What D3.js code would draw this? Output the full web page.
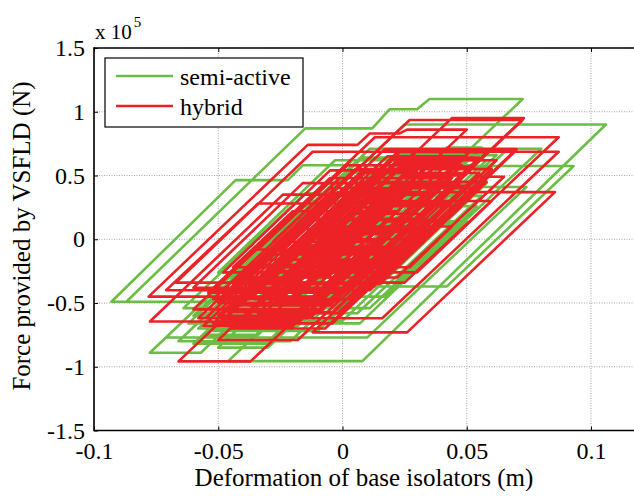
<!DOCTYPE html>
<html>
<head>
<meta charset="utf-8">
<script src="https://cdn.jsdelivr.net/npm/d3@7/dist/d3.min.js"></script>
<style>
  body { margin: 0; background: #fff; }
  text { font-family: "Liberation Serif", "Times New Roman", serif; fill: #000; }
</style>
</head>
<body>
<svg width="634" height="496"></svg>
<script>
// force values are in units of 1e5 N, deformation in m
var semiActive = [
  [-0.010,-0.12],[0.006,0.18],[0.016,0.18],[-0.009,-0.28],
  [-0.020,-0.28],[0.011,0.30],[0.026,0.30],[-0.012,-0.40],
  [-0.032,-0.40],[0.003,0.24],[0.020,0.24],[-0.004,-0.20],
  [-0.024,-0.20],[0.010,0.42],[0.038,0.42],[-0.014,-0.55],
  [-0.042,-0.55],[0.009,0.40],[0.030,0.40],[-0.025,-0.62],
  [-0.050,-0.62],[0.015,0.58],[0.052,0.58],[0.001,-0.36],
  [-0.036,-0.36],[0.012,0.52],[0.046,0.52],[-0.020,-0.70],
  [-0.058,-0.70],[0.005,0.47],[0.040,0.47],[-0.012,-0.49],
  [-0.093,-0.49],[-0.043,0.464],[-0.022,0.464],[-0.016,0.58],[0.022,0.58],[-0.057,-0.89],
  [-0.0775,-0.89],[0.004,0.62],[0.058,0.62],[-0.002,-0.49],
  [-0.087,-0.49],[-0.015,0.87],[0.012,0.87],[0.019,1.02],[0.030,1.02],[0.035,1.10],[0.0725,1.10],[-0.019,-0.60],
  [-0.060,-0.60],[0.011,0.71],[0.080,0.71],[0.017,-0.45],
  [-0.048,-0.45],[0.025,0.90],[0.106,0.90],[0.008,-0.956],
  [-0.046,-0.956],[0.037,0.574],[0.093,0.574],[0.042,-0.37],
  [-0.040,-0.37],[0.002,0.41],[0.074,0.41],[0.010,-0.77],
  [-0.071,-0.77],[-0.013,0.30],[0.045,0.30],[-0.010,-0.72],
  [-0.052,-0.72],[0.022,0.66],[0.062,0.66],[-0.002,-0.52],
  [-0.030,-0.52],[0.018,0.36],[0.048,0.36],[0.012,-0.30],
  [-0.045,-0.30],[-0.018,0.20],[0.030,0.20],[-0.014,-0.62],
  [-0.040,-0.62],[0.020,0.50],[0.036,0.50],[0.001,-0.15],
  [-0.020,-0.15],[0.022,0.62],[0.042,0.62],[-0.016,-0.45],
  [-0.032,-0.45],[-0.002,0.10],[0.012,0.10],[-0.034,-0.75],
  [-0.055,-0.75],[0.007,0.40],[0.034,0.40],[0.007,-0.10],
  [-0.008,-0.10],[0.033,0.66],[0.052,0.66],[-0.030,-0.85],
  [-0.050,-0.85],[0.008,0.22],[0.028,0.22],[0.013,-0.05],
  [0.000,-0.05],[0.042,0.72],[0.056,0.72],[0.004,-0.25],
  [-0.015,-0.25],[0.001,0.05],[0.010,0.05],[-0.028,-0.66],
  [-0.062,-0.66],[0.002,0.52],[0.050,0.52],[-0.021,-0.80],
  [-0.066,-0.80],[-0.004,0.34],[0.056,0.34],[0.006,-0.58],
  [-0.058,-0.58],[0.008,0.64],[0.048,0.64],[-0.031,-0.82],
  [-0.060,-0.82],[-0.008,0.14],[0.050,0.14],[0.007,-0.66],
  [-0.038,-0.66],[0.028,0.56],[0.060,0.56],[0.007,-0.42],
  [-0.054,-0.42],[-0.017,0.26],[0.054,0.26],[0.011,-0.54],
  [-0.064,-0.54],[-0.015,0.36],[0.038,0.36],[-0.018,-0.68],
  [-0.044,-0.68],[0.030,0.70],[0.066,0.70],[0.014,-0.26],
  [-0.050,-0.26],[-0.003,0.62],[0.020,0.62],[-0.019,-0.10],
  [-0.036,-0.10],[-0.007,0.44],[0.058,0.44],[0.000,-0.64],
  [-0.030,-0.64],[0.011,0.12],[0.046,0.12],[0.021,-0.34],
  [-0.022,-0.34],[0.013,0.30],[0.040,0.30]
];

var hybrid = [
  [-0.010,-0.15],[0.009,0.20],[0.012,0.20],[-0.012,-0.25],
  [-0.020,-0.25],[0.011,0.32],[0.022,0.32],[-0.014,-0.35],
  [-0.030,-0.35],[0.002,0.25],[0.016,0.25],[-0.008,-0.20],
  [-0.022,-0.20],[0.013,0.45],[0.030,0.45],[-0.016,-0.40],
  [-0.035,-0.40],[0.007,0.38],[0.026,0.38],[-0.022,-0.50],
  [-0.040,-0.50],[0.017,0.55],[0.040,0.55],[-0.006,-0.30],
  [-0.028,-0.30],[0.021,0.60],[0.046,0.60],[-0.016,-0.55],
  [-0.045,-0.55],[0.004,0.35],[0.036,0.35],[-0.015,-0.60],
  [-0.050,-0.60],[0.018,0.65],[0.050,0.65],[-0.009,-0.45],
  [-0.078,-0.45],[-0.014,0.74],[0.006,0.74],[0.011,0.83],[0.023,0.83],[0.026,0.86],[0.050,0.86],[-0.031,-0.645],
  [-0.0775,-0.645],[-0.024,0.35],[0.034,0.35],[-0.037,-0.958],
  [-0.066,-0.958],[0.024,0.70],[0.070,0.70],[0.011,-0.40],
  [-0.071,-0.40],[-0.034,0.28],[0.040,0.28],[-0.018,-0.79],
  [-0.050,-0.79],[0.044,0.95],[0.073,0.95],[-0.008,-0.55],
  [-0.060,-0.55],[0.013,0.80],[0.087,0.80],[0.025,-0.34],
  [-0.067,-0.34],[-0.012,0.686],[0.087,0.686],[0.016,-0.62],
  [-0.055,-0.62],[-0.002,0.37],[0.0855,0.37],[0.026,-0.73],
  [-0.012,-0.73],[0.054,0.49],[0.065,0.49],[0.022,-0.30],
  [-0.040,-0.30],[0.027,0.935],[0.0725,0.935],[-0.005,-0.50],
  [-0.048,-0.50],[0.017,0.707],[0.070,0.707],[0.021,-0.20],
  [-0.035,-0.20],[-0.016,0.15],[0.040,0.15],[-0.004,-0.66],
  [-0.052,-0.66],[0.008,0.45],[0.058,0.45],[0.015,-0.35],
  [-0.044,-0.35],[0.005,0.55],[0.060,0.55],[0.025,-0.10],
  [-0.025,-0.10],[0.008,0.52],[0.034,0.52],[-0.018,-0.45],
  [-0.036,-0.45],[-0.009,0.05],[0.020,0.05],[-0.012,-0.55],
  [-0.030,-0.55],[0.022,0.42],[0.050,0.42],[0.027,0.00],
  [-0.010,0.00],[0.023,0.62],[0.040,0.62],[-0.007,-0.25],
  [-0.025,-0.25],[-0.006,0.10],[0.005,0.10],[-0.003,-0.05],
  [-0.015,-0.05],[0.004,0.30],[0.018,0.30],[-0.004,-0.10],
  [-0.014,-0.10],[0.016,0.45],[0.028,0.45],[-0.018,-0.40],
  [-0.028,-0.40],[0.004,0.20],[0.032,0.20],[0.002,-0.35],
  [-0.020,-0.35],[-0.001,0.00],[0.012,0.00],[-0.021,-0.62],
  [-0.058,-0.62],[0.007,0.58],[0.048,0.58],[-0.020,-0.68],
  [-0.056,-0.68],[0.009,0.52],[0.055,0.52],[-0.004,-0.57],
  [-0.046,-0.57],[0.022,0.68],[0.058,0.68],[-0.001,-0.42],
  [-0.054,-0.42],[-0.005,0.48],[0.044,0.48],[-0.017,-0.64],
  [-0.048,-0.64],[0.020,0.62],[0.062,0.62],[0.003,-0.47],
  [-0.052,-0.47],[-0.005,0.40],[0.052,0.40],[-0.007,-0.70],
  [-0.045,-0.70],[0.024,0.57],[0.053,0.57],[0.002,-0.38],
  [-0.060,-0.38],[-0.016,0.44],[0.047,0.44],[-0.005,-0.52],
  [-0.042,-0.52],[0.021,0.64],[0.055,0.64],[-0.012,-0.60],
  [-0.038,-0.60],[0.011,0.30],[0.060,0.30],[0.030,-0.26],
  [-0.048,-0.26],[-0.005,0.54],[0.030,0.54],[-0.023,-0.44],
  [-0.032,-0.44],[0.030,0.70],[0.052,0.70],[-0.021,-0.66],
  [-0.036,-0.66],[0.014,0.26],[0.048,0.26],[0.027,-0.12],
  [-0.030,-0.12],[-0.005,0.34],[0.024,0.34],[-0.011,-0.30],
  [-0.040,-0.30],[-0.015,0.16],[0.034,0.16],[-0.001,-0.48],
  [-0.026,-0.48],[0.005,0.10],[0.044,0.10],[0.027,-0.22],
  [-0.044,-0.22],[-0.020,0.22],[0.022,0.22],[0.006,-0.08],
  [-0.034,-0.08],[0.002,0.58],[0.038,0.58],[-0.013,-0.36],
  [-0.024,-0.36],[-0.001,0.06],[0.030,0.06],[0.017,-0.18],
  [-0.018,-0.18],[0.013,0.40],[0.036,0.40],[0.013,-0.02],
  [-0.028,-0.02],[-0.001,0.48],[0.024,0.48],[-0.019,-0.32],
  [-0.040,-0.32],[-0.027,-0.08],[0.020,-0.08],[0.003,-0.40],
  [-0.012,-0.40],[0.017,0.14],[0.040,0.14],[0.029,-0.06],
  [-0.016,-0.06],[0.002,0.28],[0.042,0.28],[0.018,-0.16],
  [-0.032,-0.16],[-0.004,0.36],[0.018,0.36],[-0.028,-0.50],
  [-0.050,-0.50],[-0.019,0.08],[0.034,0.08],[-0.002,-0.58],
  [-0.034,-0.58],[0.024,0.50],[0.048,0.50],[0.008,-0.24],
  [-0.010,-0.24],[0.033,0.56],[0.044,0.56],[0.016,0.04],
  [-0.006,0.04],[0.011,0.36],[0.030,0.36],[-0.005,-0.28],
  [-0.020,-0.28],[-0.004,0.02],[0.008,0.02]
];

var xTicks = [-0.1, -0.05, 0, 0.05, 0.1];
var xTickLabels = ["-0.1", "-0.05", "0", "0.05", "0.1"];
var yTicks = [-1.5, -1, -0.5, 0, 0.5, 1, 1.5];
var yTickLabels = ["-1.5", "-1", "-0.5", "0", "0.5", "1", "1.5"];
var seriesNames = ["semi-active", "hybrid"];
var seriesColors = ["#6bbd45", "#ec2227"];

var svg = d3.select("svg");
var plotLeft = 94, plotRight = 634, plotTop = 48, plotBottom = 430.5;

var x = d3.scaleLinear().domain([-0.1, 0.1]).range([plotLeft, 591]);
var y = d3.scaleLinear().domain([-1.5, 1.5]).range([plotBottom, plotTop]);

svg.append("defs").append("clipPath").attr("id", "plot")
  .append("rect").attr("x", plotLeft).attr("y", plotTop)
  .attr("width", plotRight - plotLeft).attr("height", plotBottom - plotTop);

// grid
var grid = svg.append("g").attr("stroke", "#8c8c8c").attr("stroke-width", 0.8)
  .attr("stroke-dasharray", "1,1.5");
xTicks.forEach(function(t) {
  grid.append("line").attr("x1", x(t)).attr("x2", x(t)).attr("y1", plotTop).attr("y2", plotBottom);
});
yTicks.forEach(function(t) {
  grid.append("line").attr("x1", plotLeft).attr("x2", plotRight).attr("y1", y(t)).attr("y2", y(t));
});

// hysteresis curves
var line = d3.line()
  .x(function(d) { return x(d[0]); })
  .y(function(d) { return y(d[1]); });

var curves = svg.append("g").attr("clip-path", "url(#plot)");
[semiActive, hybrid].forEach(function(data, i) {
  curves.append("path").datum(data)
    .attr("d", line)
    .attr("fill", "none")
    .attr("stroke", seriesColors[i])
    .attr("stroke-width", 2.6)
    .attr("stroke-linejoin", "round");
});

// axes
var xAxis = svg.append("g").attr("transform", "translate(0," + plotBottom + ")")
  .call(d3.axisBottom(x).tickValues(xTicks).tickSizeInner(-4).tickSizeOuter(0).tickPadding(11)
    .tickFormat(function(d, i) { return xTickLabels[i]; }));
var yAxis = svg.append("g").attr("transform", "translate(" + plotLeft + ",0)")
  .call(d3.axisLeft(y).tickValues(yTicks).tickSizeInner(-4).tickSizeOuter(0).tickPadding(9)
    .tickFormat(function(d, i) { return yTickLabels[i]; }));
var xTop = svg.append("g").attr("transform", "translate(0," + plotTop + ")")
  .call(d3.axisTop(x).tickValues(xTicks).tickSizeInner(-4).tickSizeOuter(0).tickFormat(""));

[xAxis, yAxis, xTop].forEach(function(g) {
  g.select(".domain").remove();
  g.selectAll(".tick line").attr("stroke", "#000").attr("stroke-width", 1);
  g.selectAll(".tick text").style("font-size", "24px")
    .style("font-family", "'Liberation Serif', 'Times New Roman', serif");
});

var frame = svg.append("g").attr("stroke", "#000").attr("stroke-width", 1.6);
frame.append("line").attr("x1", plotLeft).attr("x2", plotRight).attr("y1", plotTop).attr("y2", plotTop);
frame.append("line").attr("x1", plotLeft).attr("x2", plotRight).attr("y1", plotBottom).attr("y2", plotBottom);
frame.append("line").attr("x1", plotLeft).attr("x2", plotLeft).attr("y1", plotTop - 0.8).attr("y2", plotBottom + 0.8);

// exponent label
var expo = svg.append("text").attr("x", 95).attr("y", 39).style("font-size", "21px");
expo.append("tspan").text("x 10");
expo.append("tspan").attr("dy", -12).attr("dx", 2).style("font-size", "15px").text("5");

// axis titles
svg.append("text").attr("x", 364).attr("y", 486).attr("text-anchor", "middle")
  .style("font-size", "25px").text("Deformation of base isolators (m)");
svg.append("text").attr("transform", "translate(30,236) rotate(-90)").attr("text-anchor", "middle")
  .style("font-size", "25px").text("Force provided by VSFLD (N)");

// legend
var legend = svg.append("g");
legend.append("rect").attr("x", 105).attr("y", 58).attr("width", 198).attr("height", 69)
  .attr("fill", "#fff").attr("stroke", "#000").attr("stroke-width", 1.2);
seriesNames.forEach(function(name, i) {
  var ly = 76 + i * 30;
  legend.append("line").attr("x1", 116).attr("x2", 173).attr("y1", ly).attr("y2", ly)
    .attr("stroke", seriesColors[i]).attr("stroke-width", 2.6);
  legend.append("text").attr("x", 180).attr("y", ly + 9).style("font-size", "24px").text(name);
});
</script>
</body>
</html>
